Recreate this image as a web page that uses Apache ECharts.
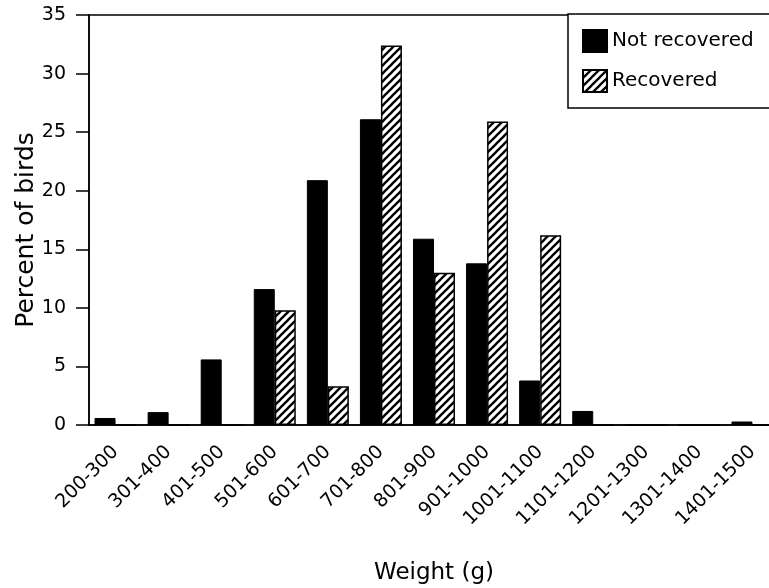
<!DOCTYPE html>
<html>
<head>
<meta charset="utf-8">
<script src="https://cdn.jsdelivr.net/npm/echarts@6/dist/echarts.min.js"></script>
<style>
html,body{margin:0;padding:0;background:#fff;}
#chart{width:769px;height:588px;}
</style>
</head>
<body>
<div id="chart"></div>
<script>
var categories = ['200-300','301-400','401-500','501-600','601-700','701-800','801-900','901-1000','1001-1100','1101-1200','1201-1300','1301-1400','1401-1500'];
var notRecovered = [0.6, 1.1, 5.6, 11.6, 20.9, 26.1, 15.9, 13.8, 3.8, 1.2, 0, 0, 0.3];
var recovered = [0, 0, 0, 9.8, 3.3, 32.4, 13.0, 25.9, 16.2, 0, 0, 0, 0];
var yTicks = { min: 0, max: 35, interval: 5 };

var FONT = 'DejaVu Sans';

function makeHatch() {
  var s = 8;
  var c = document.createElement('canvas');
  c.width = s; c.height = s;
  var ctx = c.getContext('2d');
  ctx.fillStyle = '#fff';
  ctx.fillRect(0, 0, s, s);
  ctx.strokeStyle = '#000';
  ctx.lineWidth = 2.3;
  for (var k = -1; k <= 1; k++) {
    ctx.beginPath();
    ctx.moveTo(k * s - 1, s + 1);
    ctx.lineTo(k * s + s + 1, -1);
    ctx.stroke();
  }
  return c;
}

var chart = echarts.init(document.getElementById('chart'), null, { renderer: 'canvas' });
var option = {
  animation: false,
  backgroundColor: '#fff',
  textStyle: { fontFamily: FONT, color: '#000' },
  grid: {
    left: 89, top: 15, width: 690, height: 410,
    outerBoundsMode: 'none',
    containLabel: false,
    show: true, borderColor: '#000', borderWidth: 1.5, backgroundColor: 'transparent'
  },
  legend: {
    orient: 'vertical',
    left: 568, top: 14,
    padding: [15, 80, 15, 14],
    itemGap: 16,
    itemWidth: 24, itemHeight: 22,
    borderColor: '#000', borderWidth: 1.5,
    backgroundColor: '#fff',
    icon: 'rect',
    textStyle: { fontFamily: FONT, fontSize: 20, color: '#000', padding: [14, 0, 0, 0] },
    data: ['Not recovered', 'Recovered']
  },
  xAxis: {
    type: 'category',
    data: categories,
    name: 'Weight (g)',
    nameLocation: 'middle',
    nameGap: 137,
    nameMoveOverlap: false,
    nameTextStyle: { fontFamily: FONT, fontSize: 23, color: '#000' },
    axisLine: { lineStyle: { color: '#000', width: 1.5 } },
    axisTick: { alignWithLabel: true, length: 7, lineStyle: { color: '#000', width: 1.5 } },
    axisLabel: { rotate: 45, fontFamily: FONT, fontSize: 19, color: '#000', margin: 24, interval: 0 },
    splitLine: { show: false }
  },
  yAxis: {
    type: 'value',
    min: yTicks.min, max: yTicks.max, interval: yTicks.interval,
    name: 'Percent of birds',
    nameLocation: 'middle',
    nameGap: 50,
    nameMoveOverlap: false,
    nameTextStyle: { fontFamily: FONT, fontSize: 25, color: '#000', padding: [0, 20, 0, 0] },
    axisLine: { show: true, lineStyle: { color: '#000', width: 1.5 } },
    axisTick: { show: true, length: 13, lineStyle: { color: '#000', width: 1.5 } },
    axisLabel: { fontFamily: FONT, fontSize: 19, color: '#000', margin: 23 },
    splitLine: { show: false }
  },
  series: [
    {
      name: 'Not recovered',
      type: 'bar',
      data: notRecovered,
      barWidth: 21,
      barGap: '0%',
      itemStyle: { color: '#000', borderColor: '#000', borderWidth: 1 }
    },
    {
      name: 'Recovered',
      type: 'bar',
      data: recovered,
      barWidth: 21,
      barGap: '0%',
      itemStyle: { color: { image: makeHatch(), repeat: 'repeat' }, borderColor: '#000', borderWidth: 1.5 }
    }
  ]
};
chart.setOption(option);
</script>
</body>
</html>
